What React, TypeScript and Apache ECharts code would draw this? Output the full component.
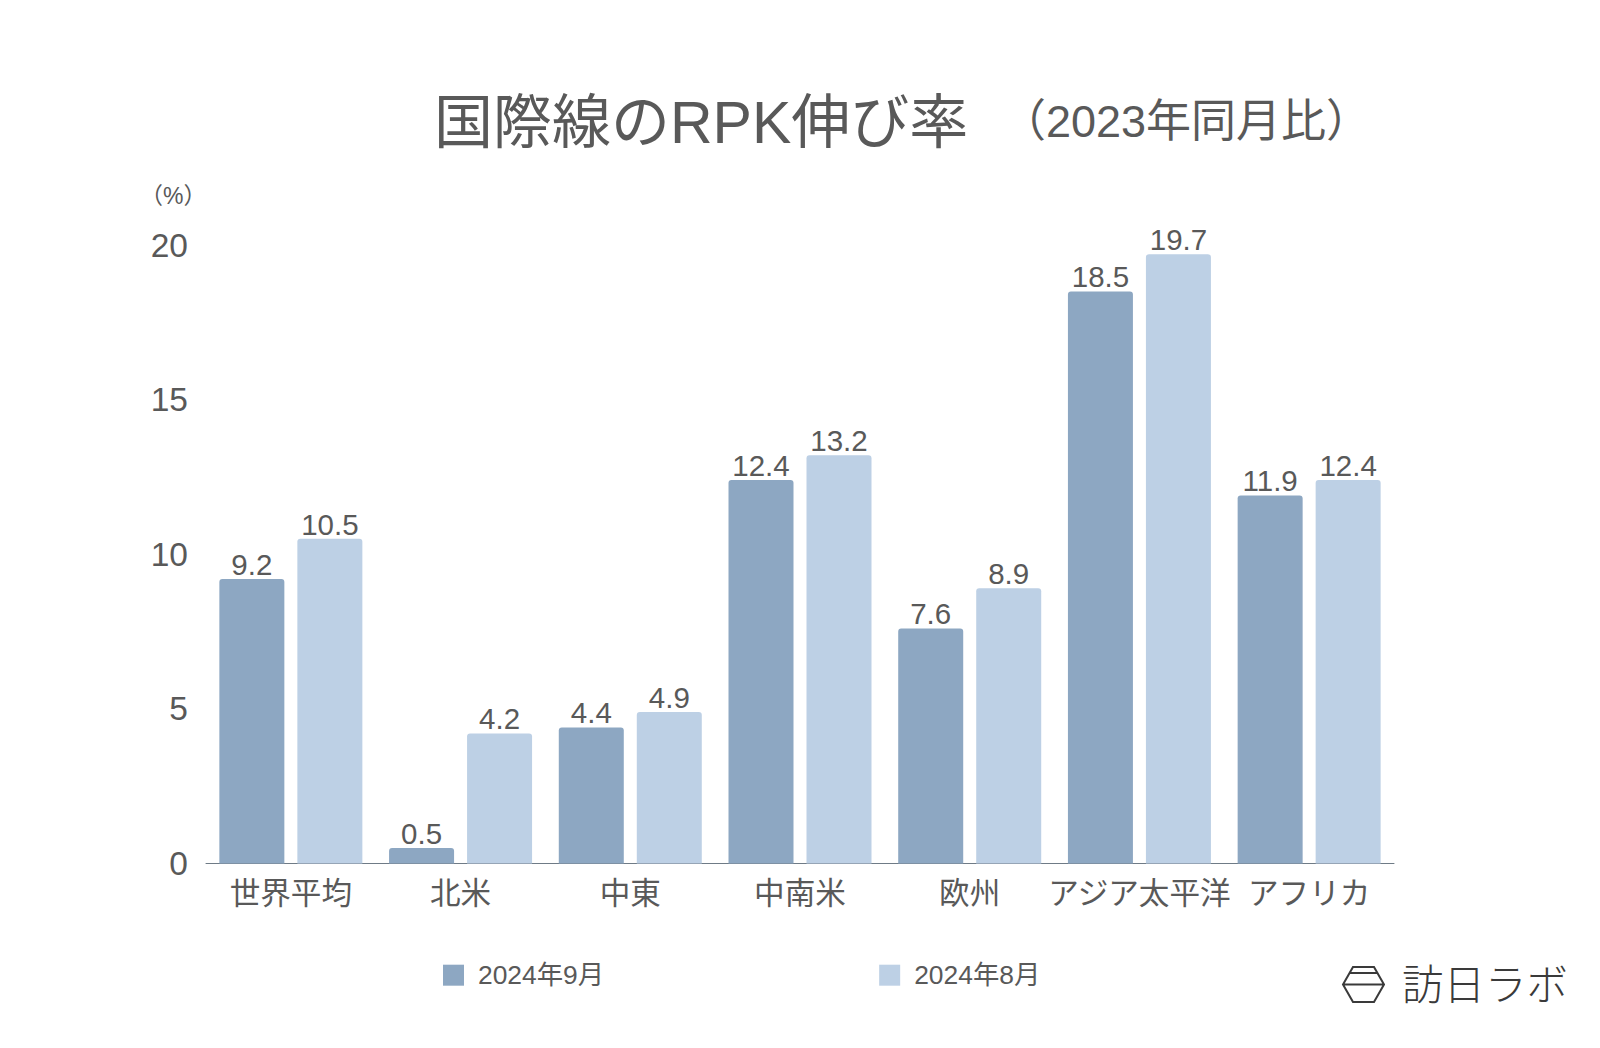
import React, { useEffect, useRef } from "react";
import * as echarts from "echarts";

const categories = ["世界平均", "北米", "中東", "中南米", "欧州", "アジア太平洋", "アフリカ"];
const sep2024 = [9.2, 0.5, 4.4, 12.4, 7.6, 18.5, 11.9];
const aug2024 = [10.5, 4.2, 4.9, 13.2, 8.9, 19.7, 12.4];
const seriesNames = ["2024年9月", "2024年8月"];
const yTicks = { min: 0, max: 20, interval: 5 };
const titleMain = "国際線のRPK伸び率";
const titleSub = "（2023年同月比）";
const yUnit = "（%）";
const brandName = "訪日ラボ";

const FONT = '"Liberation Sans", "Noto Sans CJK JP", sans-serif';
const TEXT = "#595959";

const labelStyle = {
  show: true,
  position: "top" as const,
  distance: 0,
  color: TEXT,
  fontSize: 29.5,
  fontFamily: FONT,
  formatter: (p: any) => Number(p.value).toFixed(1),
};

echarts.graphic.registerShape(
  "brandMark",
  echarts.graphic.extendPath("M0 17.5L10 0L31 0L41 17.5L31 35L10 35ZM0 17.5L41 17.5M7 6L34 6", {}) as any
);

export default function App() {
  const ref = useRef<HTMLDivElement>(null);
  useEffect(() => {
    document.body.style.margin = "0";
    const chart = echarts.init(ref.current!, null, { renderer: "svg" });
    chart.setOption({
      animation: false,
      backgroundColor: "#ffffff",
      textStyle: { fontFamily: FONT, color: TEXT },
      grid: { left: 206, top: 245, width: 1188, height: 618.5, containLabel: false },
      legend: {
        left: 438,
        top: 957,
        itemWidth: 21,
        itemHeight: 21,
        itemGap: 275,
        icon: "rect",
        data: seriesNames,
        textStyle: { color: TEXT, fontSize: 26.4, fontFamily: FONT, padding: [0, 0, 0, 9] },
      },
      xAxis: {
        type: "category",
        data: categories,
        axisTick: { show: false },
        axisLine: { lineStyle: { color: "#6f7b86", width: 1 } },
        axisLabel: { color: TEXT, fontSize: 30.6, fontFamily: FONT, margin: 14, interval: 0 },
      },
      yAxis: {
        type: "value",
        min: yTicks.min,
        max: yTicks.max,
        interval: yTicks.interval,
        axisLine: { show: false },
        axisTick: { show: false },
        splitLine: { show: false },
        axisLabel: { color: TEXT, fontSize: 33.5, fontFamily: FONT, margin: 18 },
      },
      series: [
        {
          name: seriesNames[0],
          type: "bar",
          data: sep2024,
          barWidth: 65,
          barGap: "20%",
          itemStyle: { color: "#8da7c2", borderRadius: [3, 3, 0, 0] },
          label: labelStyle,
        },
        {
          name: seriesNames[1],
          type: "bar",
          data: aug2024,
          barWidth: 65,
          itemStyle: { color: "#bdd0e5", borderRadius: [3, 3, 0, 0] },
          label: labelStyle,
        },
      ],
      graphic: [
        { type: "text", left: 434, top: 93, style: { text: titleMain, fill: TEXT, fontSize: 59, fontFamily: FONT } },
        { type: "text", left: 1001, top: 99, style: { text: titleSub, fill: TEXT, fontSize: 45, fontFamily: FONT } },
        { type: "text", left: 140, top: 184, style: { text: yUnit, fill: TEXT, fontSize: 23, fontFamily: FONT } },
        {
          type: "brandMark",
          x: 1343,
          y: 967,
          style: { fill: "none", stroke: "#3a3a3a", lineWidth: 2 },
        },
        { type: "text", left: 1402, top: 965, style: { text: brandName, fill: "#3a3a3a", fontSize: 41.5, fontFamily: FONT, fontWeight: 300 } },
      ],
    });
    return () => chart.dispose();
  }, []);
  return <div ref={ref} style={{ width: 1600, height: 1048 }} />;
}
